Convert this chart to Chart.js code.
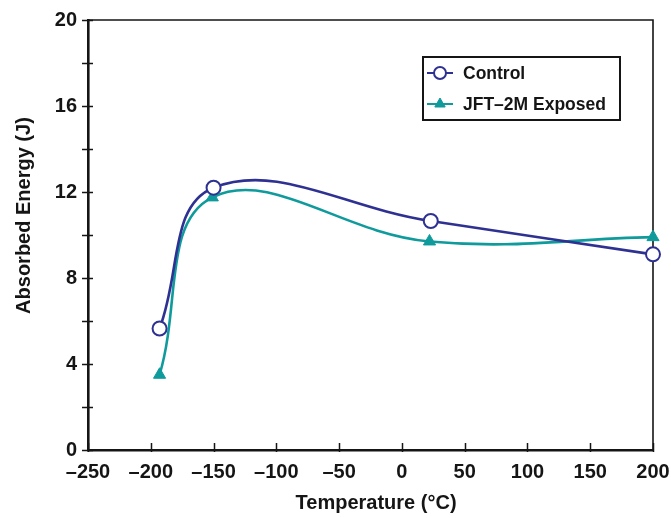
<!DOCTYPE html>
<html>
<head>
<meta charset="utf-8">
<script src="https://cdn.jsdelivr.net/npm/chart.js@4.4.1/dist/chart.umd.min.js"></script>
<style>
html, body { margin: 0; padding: 0; background: #fff; }
</style>
</head>
<body>
<canvas id="myChart" width="671" height="518"></canvas>
<script>
const controlTemps   = [-193, -150, 23, 200];
const controlEnergy  = [5.65, 12.2, 10.65, 9.1];
const exposedTemps   = [-193, -151, 22, 200];
const exposedEnergy  = [3.5, 11.75, 9.7, 9.9];
const xTicks = [-250, -200, -150, -100, -50, 0, 50, 100, 150, 200];
const yTicks = [0, 2, 4, 6, 8, 10, 12, 14, 16, 18, 20];
const yLabelled = [0, 4, 8, 12, 16, 20];
const seriesNames = ['Control', 'JFT\u20132M Exposed'];

const NAVY = '#2e3192';
const TEAL = '#0f9a9c';
const INK  = '#151515';
const FONT = "'Liberation Sans', Arial, sans-serif";

const toPoints = function (xs, ys) {
	return xs.map((x, i) => ({ x: x, y: ys[i] }));
}

// tick marks crossing the axes + the thin top/right frame
const frameAndTicks = {
	id: 'frameAndTicks',
	beforeDatasetsDraw(chart) {
		const { ctx, chartArea: a, scales: { x, y } } = chart;
		ctx.save();
		ctx.strokeStyle = INK;
		ctx.lineWidth = 1.6;
		ctx.beginPath();
		ctx.moveTo(a.left, a.top);
		ctx.lineTo(a.right, a.top);
		ctx.lineTo(a.right, a.bottom);
		ctx.stroke();
		ctx.lineWidth = 1.5;
		ctx.beginPath();
		x.ticks.forEach(t => {
			const px = Math.round(x.getPixelForValue(t.value)) + 0.5;
			ctx.moveTo(px, a.bottom + 2);
			ctx.lineTo(px, a.bottom - 7);
		});
		y.ticks.forEach(t => {
			const py = Math.round(y.getPixelForValue(t.value)) + 0.5;
			ctx.moveTo(a.left - 6, py);
			ctx.lineTo(a.left + 5, py);
		});
		ctx.stroke();
		ctx.restore();
	}
};

// boxed legend inside the plot
const boxLegend = {
	id: 'boxLegend',
	afterDraw(chart) {
		const { ctx, chartArea: a } = chart;
		const bx = a.left + 335, by = a.top + 37, bw = 197, bh = 63;
		ctx.save();
		ctx.fillStyle = '#fff';
		ctx.fillRect(bx, by, bw, bh);
		ctx.strokeStyle = INK;
		ctx.lineWidth = 2;
		ctx.strokeRect(bx, by, bw, bh);
		chart.data.datasets.forEach((ds, i) => {
			const cy = by + 16 + i * 31;
			ctx.strokeStyle = ds.borderColor;
			ctx.lineWidth = 2;
			ctx.beginPath();
			ctx.moveTo(bx + 4, cy);
			ctx.lineTo(bx + 30, cy);
			ctx.stroke();
			ctx.fillStyle = ds.pointBackgroundColor;
			ctx.strokeStyle = ds.pointBorderColor;
			ctx.lineWidth = ds.pointBorderWidth;
			Chart.helpers.drawPoint(ctx, { pointStyle: ds.pointStyle, radius: 6, borderWidth: ds.pointBorderWidth }, bx + 17, cy);
			ctx.fillStyle = INK;
			ctx.font = 'bold 17.5px ' + FONT;
			ctx.textAlign = 'left';
			ctx.textBaseline = 'middle';
			ctx.fillText(ds.label, bx + 40, cy + 1);
		});
		ctx.restore();
	}
};

const ctx = document.getElementById('myChart').getContext('2d');

const myChart = new Chart(ctx, {
	type: 'line',
	data: {
		datasets: [{
			label: seriesNames[0],
			data: toPoints(controlTemps, controlEnergy),
			borderColor: NAVY,
			borderWidth: 2.6,
			tension: 0.4,
			pointStyle: 'circle',
			pointRadius: 7,
			pointBackgroundColor: '#fff',
			pointBorderColor: NAVY,
			pointBorderWidth: 2,
			clip: false
		}, {
			label: seriesNames[1],
			data: toPoints(exposedTemps, exposedEnergy),
			borderColor: TEAL,
			borderWidth: 2.6,
			tension: 0.4,
			pointStyle: 'triangle',
			pointRadius: 7,
			pointBackgroundColor: TEAL,
			pointBorderColor: TEAL,
			pointBorderWidth: 1,
			clip: false
		}]
	},
	options: {
		responsive: false,
		animation: false,
		layout: { padding: { top: 20, right: 0, left: 0, bottom: 0 } },
		plugins: {
			legend: { display: false },
			tooltip: { enabled: false }
		},
		scales: {
			x: {
				type: 'linear',
				min: -250,
				max: 200,
				afterBuildTicks: s => { s.ticks = xTicks.map(v => ({ value: v })); },
				afterFit: s => { s.height = 68; s.paddingLeft = 0; s.paddingRight = 18; },
				grid: { drawOnChartArea: false, drawTicks: false },
				border: { display: true, color: INK, width: 2.6 },
				ticks: {
					autoSkip: false,
					maxRotation: 0,
					padding: 10,
					color: INK,
					font: { family: FONT, size: 20, weight: 'bold' },
					callback: v => String(v).replace('-', '\u2013')
				},
				title: {
					display: true,
					text: '  Temperature (\u00b0C)',
					color: INK,
					font: { family: FONT, size: 20, weight: 'bold' },
					padding: { top: 0, bottom: 3 }
				}
			},
			y: {
				min: 0,
				max: 20,
				afterBuildTicks: s => { s.ticks = yTicks.map(v => ({ value: v })); },
				afterFit: s => { s.width = 88; s.paddingTop = 0; s.paddingBottom = 0; },
				grid: { drawOnChartArea: false, drawTicks: false },
				border: { display: true, color: INK, width: 2.6 },
				ticks: {
					autoSkip: false,
					padding: 11,
					color: INK,
					font: { family: FONT, size: 20, weight: 'bold' },
					callback: v => yLabelled.includes(v) ? String(v) : ''
				},
				title: {
					display: true,
					text: '       Absorbed Energy (J)',
					color: INK,
					font: { family: FONT, size: 20, weight: 'bold' },
					padding: { top: 12, bottom: 0 }
				}
			}
		}
	},
	plugins: [frameAndTicks, boxLegend]
});
</script>
</body>
</html>
